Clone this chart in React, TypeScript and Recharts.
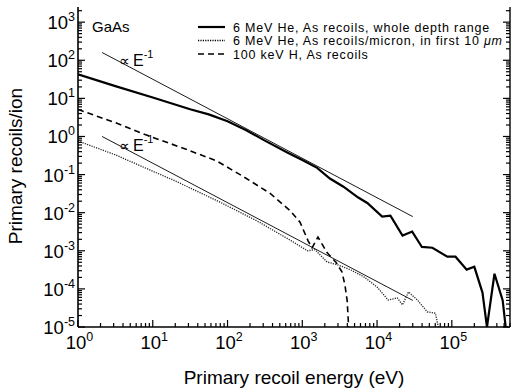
import { Line, LineChart, XAxis, YAxis } from 'recharts';

// decade exponents for the major ticks
const X_DECADES = [0, 1, 2, 3, 4, 5];
const Y_DECADES = [-5, -4, -3, -2, -1, 0, 1, 2, 3];
const X_MAX = 6.0e5;
const Y_MIN = 1e-5;
const Y_MAX = 2500;

// [energy (eV), primary recoils/ion]
const WHOLE_DEPTH: [number, number][] = [
  [1, 43], [3.16, 21], [10, 10.5], [31.6, 5.2], [56, 3.8], [100, 2.5], [178, 1.45], [316, 0.78],
  [630, 0.38], [1000, 0.24], [1580, 0.15], [2340, 0.079], [3550, 0.048], [5600, 0.025],
  [7400, 0.018], [11700, 0.0079], [15100, 0.0083], [21900, 0.0025], [29500, 0.0032],
  [39800, 0.00126], [55000, 0.0012], [87000, 0.0007], [112000, 0.0007], [158000, 0.00032],
  [200000, 0.00038], [257000, 0.00008], [295000, 1e-5], [372000, 0.00025], [479000, 0.00005],
  [525000, 1e-5],
];

const PER_MICRON: [number, number][] = [
  [1, 0.76], [3.16, 0.33], [7.9, 0.15], [20, 0.068], [79, 0.019], [251, 0.006], [690, 0.0019],
  [1175, 0.001], [1480, 0.00107], [2140, 0.00051], [2950, 0.00043], [4370, 0.00032],
  [6600, 0.00021], [10000, 0.000112], [14100, 5.1e-5], [18600, 5.8e-5], [21900, 3.8e-5],
  [26300, 8.3e-5], [34700, 5.1e-5], [46800, 2.5e-5], [60300, 2.3e-5], [66000, 1e-5],
];

const PROTON_100KEV: [number, number][] = [
  [1, 5.1], [3.16, 2.3], [7.9, 1.12], [25, 0.5], [71, 0.23], [162, 0.089], [372, 0.032],
  [690, 0.0112], [933, 0.0056], [1200, 0.0018], [1350, 0.0012], [1620, 0.0023], [2140, 0.0009],
  [2820, 0.0005], [3390, 0.00028], [3720, 0.000126], [3980, 5e-5], [4170, 1e-5],
];

// guide lines proportional to 1/E
const FIT_UPPER: [number, number][] = [[2.1, 160], [30000, 0.0079]];
const FIT_LOWER: [number, number][] = [[2.1, 1.0], [30000, 5e-5]];

const LEGEND = [
  { name: '6 MeV He, As recoils, whole depth range', width: 2.2, dash: undefined },
  { name: '6 MeV He, As recoils/micron, in first 10 ', unit: 'μm', width: 1.3, dash: '1.2 1.2' },
  { name: '100 keV H, As recoils', width: 1.6, dash: '6 4' },
];

const FONT = '"Liberation Sans", Arial, Helvetica, sans-serif';

const rows = (pts: [number, number][]) => pts.map(([e, v]) => ({ e, v }));

function logTicks(decades: number[], max: number) {
  const out: number[] = [];
  decades.forEach((d) => {
    for (let m = 1; m <= 9; m++) {
      const v = m * Math.pow(10, d);
      if (v <= max * 1.0001) out.push(v);
    }
  });
  return out;
}

const isMajor = (v: number) => {
  const l = Math.log10(v);
  return Math.abs(l - Math.round(l)) < 1e-6;
};

function XTick(props: any) {
  const { x, y, payload } = props;
  const v = payload.value;
  const major = isMajor(v);
  return (
    <g>
      <line x1={x} y1={y} x2={x} y2={y - (major ? 7 : 4)} stroke="#000" strokeWidth={1.2} />
      {major && (
        <text x={x + 1.5} y={y + 22} textAnchor="middle" fontFamily={FONT} fontSize={18.5} fill="#000">
          10
          <tspan dy={-8} fontSize={12.5}>{Math.round(Math.log10(v))}</tspan>
        </text>
      )}
    </g>
  );
}

function YTickLeft(props: any) {
  const { x, y, payload } = props;
  const v = payload.value;
  const major = isMajor(v);
  return (
    <g>
      <line x1={x} y1={y} x2={x + (major ? 7 : 4)} y2={y} stroke="#000" strokeWidth={1.2} />
      {major && (
        <text x={x - 3} y={y + 7} textAnchor="end" fontFamily={FONT} fontSize={18.5} fill="#000">
          10
          <tspan dy={-8} fontSize={12.5}>{Math.round(Math.log10(v))}</tspan>
        </text>
      )}
    </g>
  );
}

function YTickRight(props: any) {
  const { x, y, payload } = props;
  const major = isMajor(payload.value);
  return <line x1={x} y1={y} x2={x - (major ? 7 : 4)} y2={y} stroke="#000" strokeWidth={1.2} />;
}

function PowerLabel({ x, y }: { x: number; y: number }) {
  return (
    <text y={y} fontFamily={FONT} fill="#000">
      <tspan x={x} fontSize={15}>∝</tspan>
      <tspan x={x + 14} fontSize={16}>E</tspan>
      <tspan dy={-8} fontSize={11}>-1</tspan>
    </text>
  );
}

export default function App() {
  const xTicks = logTicks(X_DECADES, X_MAX);
  const yTicks = logTicks(Y_DECADES, Y_MAX);

  return (
    <div style={{ position: 'absolute', left: 0, top: 0, background: '#fff' }}>
      <LineChart width={514} height={389} margin={{ top: 7, right: 0, bottom: 0, left: 0 }}>
        <XAxis
          dataKey="e"
          type="number"
          scale="log"
          domain={[1, X_MAX]}
          allowDataOverflow
          ticks={xTicks}
          interval={0}
          tick={<XTick />}
          tickLine={false}
          tickSize={0}
          tickMargin={0}
          height={62}
          axisLine={{ stroke: '#000', strokeWidth: 1.6 }}
        />
        <XAxis
          xAxisId="top"
          orientation="top"
          type="number"
          scale="log"
          domain={[1, X_MAX]}
          allowDataOverflow
          tick={false}
          tickLine={false}
          height={0}
          axisLine={{ stroke: '#000', strokeWidth: 1.4 }}
        />
        <YAxis
          dataKey="v"
          type="number"
          scale="log"
          domain={[Y_MIN, Y_MAX]}
          allowDataOverflow
          ticks={yTicks}
          interval={0}
          tick={<YTickLeft />}
          tickLine={false}
          tickSize={0}
          tickMargin={0}
          width={78}
          axisLine={{ stroke: '#000', strokeWidth: 1.6 }}
        />
        <YAxis
          yAxisId="right"
          orientation="right"
          type="number"
          scale="log"
          domain={[Y_MIN, Y_MAX]}
          allowDataOverflow
          ticks={yTicks}
          interval={0}
          tick={<YTickRight />}
          tickLine={false}
          tickSize={0}
          tickMargin={0}
          width={4}
          axisLine={{ stroke: '#000', strokeWidth: 1.4 }}
        />

        <Line data={rows(FIT_UPPER)} dataKey="v" stroke="#000" strokeWidth={0.9} dot={false} isAnimationActive={false} />
        <Line data={rows(FIT_LOWER)} dataKey="v" stroke="#000" strokeWidth={0.9} dot={false} isAnimationActive={false} />
        <Line data={rows(PROTON_100KEV)} dataKey="v" stroke="#000" strokeWidth={1.6} strokeDasharray="6 4" dot={false} isAnimationActive={false} />
        <Line data={rows(PER_MICRON)} dataKey="v" stroke="#222" strokeWidth={1.3} strokeDasharray="1.2 1.2" dot={false} isAnimationActive={false} />
        <Line data={rows(WHOLE_DEPTH)} dataKey="v" stroke="#000" strokeWidth={2.2} dot={false} isAnimationActive={false} />

        <text x={92} y={32} fontFamily={FONT} fontSize={15} fill="#000">GaAs</text>

        <PowerLabel x={119} y={66} />
        <PowerLabel x={119} y={151} />

        {LEGEND.map((s, i) => (
          <g key={s.name}>
            <line x1={198} x2={225} y1={27 + i * 13.5} y2={27 + i * 13.5} stroke="#000" strokeWidth={s.width} strokeDasharray={s.dash} />
            <text x={233} y={31.5 + i * 13.5} fontFamily={FONT} fontSize={12.5} letterSpacing={0.8} fill="#000">
              {s.name}
              {s.unit && <tspan fontStyle="italic">{s.unit}</tspan>}
            </text>
          </g>
        ))}

        <text x={294} y={384} textAnchor="middle" fontFamily={FONT} fontSize={19} fill="#000">
          Primary recoil energy (eV)
        </text>
        <text transform="rotate(-90)" x={-166} y={22} textAnchor="middle" fontFamily={FONT} fontSize={19} fill="#000">
          Primary recoils/ion
        </text>
      </LineChart>
    </div>
  );
}
